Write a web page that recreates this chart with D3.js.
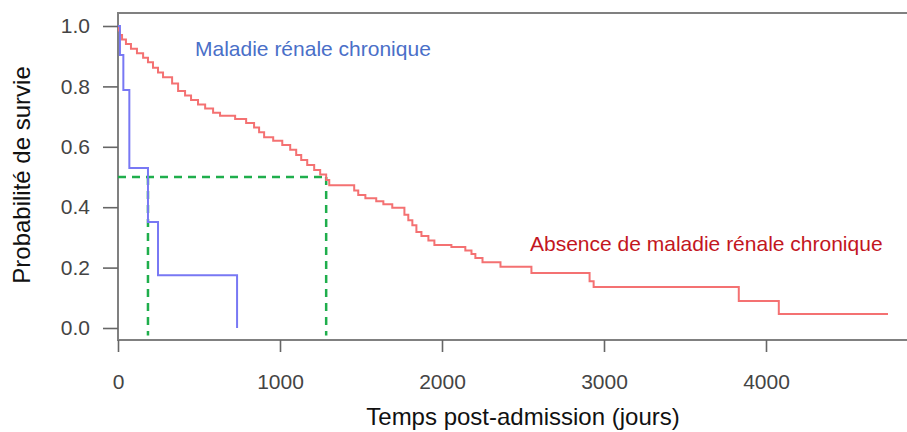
<!DOCTYPE html>
<html>
<head>
<meta charset="utf-8">
<script src="https://cdn.jsdelivr.net/npm/d3@7"></script>
<style>
  body{margin:0;background:#fff;}
  svg text{font-family:Arial,"Liberation Sans",Helvetica,sans-serif;}
</style>
</head>
<body>
<main></main>
<script>
const w=907;
const h=432;

// Kaplan-Meier steps: time (jours) where survival drops, value after the drop
const ckdTimes=[0,12,33,70,185,247,735];
const ckdSurv=[1,0.904,0.788,0.53,0.351,0.175,0];

const noCkdTimes=[0,6,12,25,49,80,117,155,185,216,247,278,334,371,414,451,494,538,587,630,723,791,840,871,902,958,1014,1063,1100,1131,1168,1211,1248,1285,1304,1458,1483,1527,1594,1638,1693,1768,1792,1817,1842,1873,1916,1953,2058,2144,2182,2206,2250,2361,2552,2911,2936,3832,4079,4753];
const noCkdSurv=[1,0.985,0.97,0.955,0.94,0.925,0.91,0.895,0.88,0.862,0.846,0.83,0.81,0.785,0.77,0.755,0.74,0.727,0.713,0.703,0.692,0.679,0.664,0.648,0.632,0.62,0.606,0.59,0.573,0.556,0.54,0.523,0.508,0.49,0.473,0.455,0.44,0.43,0.42,0.41,0.398,0.375,0.357,0.34,0.318,0.305,0.29,0.275,0.268,0.257,0.245,0.232,0.218,0.203,0.182,0.155,0.136,0.089,0.046,0.046];

// medians (survie = 0.5)
const medianTimes=[185,1285];
const medianLevel=0.5;

const xTicks=[0,1000,2000,3000,4000];
const yTicks=[0,0.2,0.4,0.6,0.8,1.0];

const svg=d3.select("main")
            .append("svg")
            .attr("width",w)
            .attr("height",h);

const xScale=d3.scaleLinear()
               .domain([0,4000])
               .range([118,766]);
const yScale=d3.scaleLinear()
               .domain([0,1])
               .range([328,26]);

const axisColor="#666";

// box (cut off on the right like the original)
svg.append("path")
   .attr("d",`M${w+5},13 H118 V340 H${w+5}`)
   .attr("fill","none")
   .attr("stroke","#808080")
   .attr("stroke-width",2);

const yAxis=d3.axisLeft(yScale)
              .tickValues(yTicks)
              .tickSize(15)
              .tickPadding(13)
              .tickFormat(d3.format(".1f"));
const gy=svg.append("g")
   .attr("transform","translate(118,0)")
   .call(yAxis);
gy.select(".domain").remove();
gy.selectAll(".tick line").attr("stroke",axisColor).attr("stroke-width",1.6);
gy.selectAll(".tick text").attr("font-size",21).attr("fill","#444");

const xAxis=d3.axisBottom(xScale)
              .tickValues(xTicks)
              .tickSize(12)
              .tickPadding(22)
              .tickFormat(d3.format("d"));
const gx=svg.append("g")
   .attr("transform","translate(0,340)")
   .call(xAxis);
gx.select(".domain").remove();
gx.selectAll(".tick line").attr("stroke",axisColor).attr("stroke-width",1.6);
gx.selectAll(".tick text").attr("font-size",21).attr("fill","#444");

svg.append("text")
   .attr("x",523)
   .attr("y",425)
   .attr("text-anchor","middle")
   .attr("font-size",24)
   .attr("fill","#111")
   .text("Temps post-admission (jours)");

svg.append("text")
   .attr("transform","translate(30,175) rotate(-90)")
   .attr("text-anchor","middle")
   .attr("font-size",24)
   .attr("fill","#111")
   .text("Probabilité de survie");

const line=d3.line()
             .x(d=>xScale(d[0]))
             .y(d=>yScale(d[1]))
             .curve(d3.curveStepAfter);

// median guides
svg.append("path")
   .attr("d",`M${xScale(0)},${yScale(medianLevel)} H${xScale(medianTimes[1])}`)
   .attr("stroke","#1fae4c")
   .attr("stroke-width",2.5)
   .attr("stroke-dasharray","8,6")
   .attr("fill","none");
svg.selectAll(".median")
   .data(medianTimes)
   .enter()
   .append("line")
   .attr("class","median")
   .attr("x1",d=>xScale(d))
   .attr("x2",d=>xScale(d))
   .attr("y1",yScale(medianLevel))
   .attr("y2",yScale(-0.025))
   .attr("stroke","#1fae4c")
   .attr("stroke-width",2.5)
   .attr("stroke-dasharray","8,6");

svg.append("path")
   .datum(noCkdTimes.map((t,i)=>[t,noCkdSurv[i]]))
   .attr("d",line)
   .attr("fill","none")
   .attr("stroke","#f47172")
   .attr("stroke-width",2);

svg.append("path")
   .datum(ckdTimes.map((t,i)=>[t,ckdSurv[i]]))
   .attr("d",line)
   .attr("fill","none")
   .attr("stroke","#7878f4")
   .attr("stroke-width",2);

svg.append("text")
   .attr("x",195)
   .attr("y",56)
   .attr("font-size",21)
   .attr("fill","#4a6fc8")
   .text("Maladie rénale chronique");

svg.append("text")
   .attr("x",530)
   .attr("y",251)
   .attr("font-size",21)
   .attr("fill","#c3161e")
   .text("Absence de maladie rénale chronique");
</script>
</body>
</html>
